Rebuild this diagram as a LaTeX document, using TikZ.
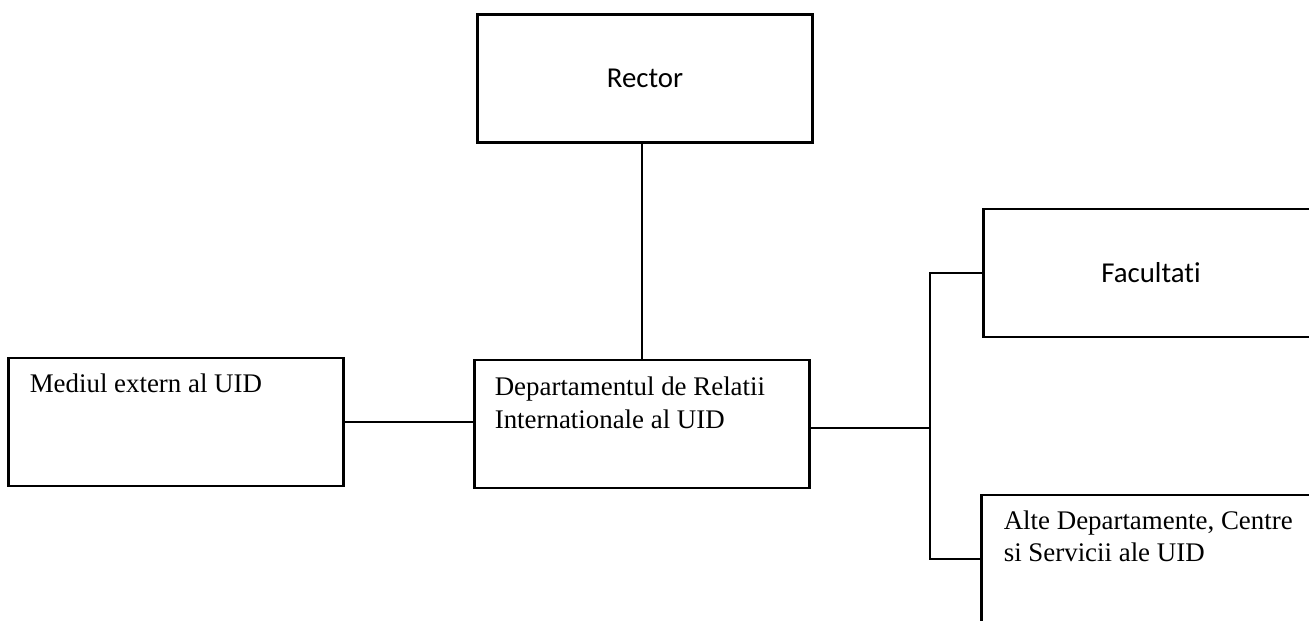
\documentclass[tikz,border=0pt]{standalone}
\usepackage{fontspec}
\setmainfont{Liberation Serif}
\newfontfamily\calibrifont[Ligatures=NoCommon]{Carlito}
\usetikzlibrary{positioning}

\tikzset{
  box/.style={draw, line width=1.2pt, minimum width=6.7cm, minimum height=2.56cm, inner sep=0pt},
  boxtitle/.style={font=\calibrifont\fontsize{16.4}{19}\selectfont},
  boxtext/.style={align=left, inner sep=0pt, font=\fontsize{15.3}{18.4}\selectfont},
  link/.style={line width=0.85pt},
}

\begin{document}
\begin{tikzpicture}[x=0.02cm, y=-0.02cm]
        \useasboundingbox (0,0) rectangle (1309,621);
        \clip (0,0) rectangle (1309,621);
        \node[box, boxtitle] (rector) at (645,78.5) {Rector};
        \node[box] (mediul) at (176,422) {};
        \node[box] (dri) at (642,424) {};
        \node[box, boxtitle] (facultati) at (1151,273) {Facultati};
        \node[box] (alte) at (1149,559) {};
        \node[boxtext, below right=0.34cm and 0.44cm of mediul.north west] (mediultext) {Mediul extern al UID};
        \node[boxtext, below right=0.36cm and 0.42cm of dri.north west] (dritext) {Departamentul de Relatii\\Internationale al UID};
        \node[boxtext, below right=0.33cm and 0.46cm of alte.north west] (altetext) {Alte Departamente, Centre\\si Servicii ale UID};
        \coordinate (branch) at (930,428);
        \draw[link] (rector.south -| dri.north) -- (dri.north);
        \draw[link] (mediul.east) -- (mediul.east -| dri.west);
        \draw[link] (dri.east |- branch) -- (branch);
        \draw[link] (facultati.west) -| (branch) |- (alte.west);
    \end{tikzpicture}
\end{document}
